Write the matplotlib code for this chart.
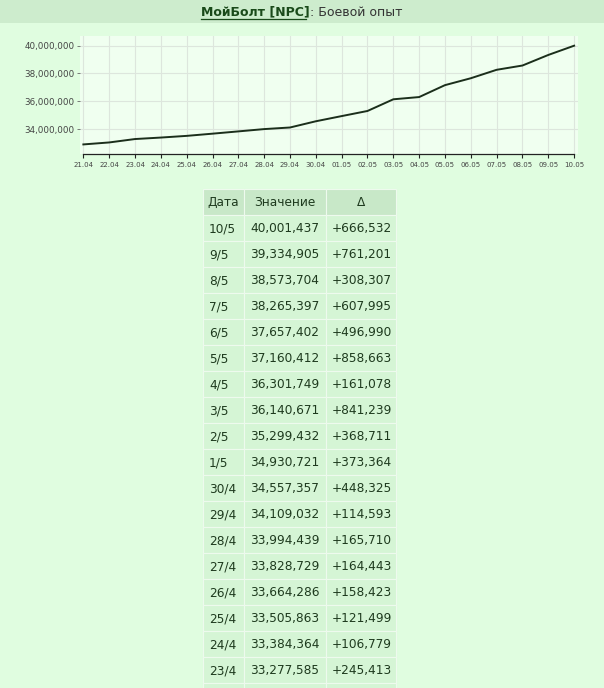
import matplotlib
matplotlib.use("Agg")
import matplotlib.pyplot as plt
from matplotlib.patches import Rectangle
from matplotlib.ticker import FuncFormatter

# ---- data ----
chart_dates = ["21.04", "22.04", "23.04", "24.04", "25.04", "26.04", "27.04", "28.04",
               "29.04", "30.04", "01.05", "02.05", "03.05", "04.05", "05.05", "06.05",
               "07.05", "08.05", "09.05", "10.05"]
chart_values = [32890000, 33032172, 33277585, 33384364, 33505863, 33664286, 33828729,
                33994439, 34109032, 34557357, 34930721, 35299432, 36140671, 36301749,
                37160412, 37657402, 38265397, 38573704, 39334905, 40001437]
y_ticks = [34000000, 36000000, 38000000, 40000000]

table_dates = ["10/5", "9/5", "8/5", "7/5", "6/5", "5/5", "4/5", "3/5", "2/5", "1/5",
               "30/4", "29/4", "28/4", "27/4", "26/4", "25/4", "24/4", "23/4"]
table_values = ["40,001,437", "39,334,905", "38,573,704", "38,265,397", "37,657,402",
                "37,160,412", "36,301,749", "36,140,671", "35,299,432", "34,930,721",
                "34,557,357", "34,109,032", "33,994,439", "33,828,729", "33,664,286",
                "33,505,863", "33,384,364", "33,277,585"]
table_deltas = ["+666,532", "+761,201", "+308,307", "+607,995", "+496,990", "+858,663",
                "+161,078", "+841,239", "+368,711", "+373,364", "+448,325", "+114,593",
                "+165,710", "+164,443", "+158,423", "+121,499", "+106,779", "+245,413"]
headers = ["Дата", "Значение", "Δ"]
title_bold = "МойБолт [NPC]"
title_rest = ": Боевой опыт"

# ---- style ----
W, H = 604, 688
page_bg = "#e0fde0"
bar_bg = "#cdeccd"
panel_bg = "#f0fff0"
hdr_bg = "#c8e8c8"
cell_bg = "#d5f5d5"
txt = "#1e3a1e"
grid_c = "#dde6dd"

plt.rcParams["font.family"] = ["DejaVu Sans"]
fig = plt.figure(figsize=(W / 100, H / 100), dpi=100, facecolor=page_bg)

# overlay in pixel coordinates
ov = fig.add_axes([0, 0, 1, 1], zorder=0)
ov.set_xlim(0, W)
ov.set_ylim(H, 0)
ov.axis("off")
ov.add_patch(Rectangle((0, 0), W, 23, facecolor=bar_bg, edgecolor="none"))

# title
fig.canvas.draw()
r = fig.canvas.get_renderer()
t1 = ov.text(0, 12, title_bold, fontsize=9, fontweight="bold", color="#1a4a1a",
             va="center", ha="left")
t2 = ov.text(0, 12, title_rest, fontsize=9, color="#333333", va="center", ha="left")
w1 = t1.get_window_extent(r).width
w2 = t2.get_window_extent(r).width
x0 = W / 2 - (w1 + w2) / 2
t1.set_x(x0)
t2.set_x(x0 + w1)
ov.plot([x0, x0 + w1 - 4], [19, 19], color="#1a4a1a", lw=0.9)

# ---- chart ----
ax = fig.add_axes([80 / W, 1 - 154 / H, (578 - 80) / W, (154 - 36) / H], zorder=1)
ax.set_facecolor(panel_bg)
xs = list(range(len(chart_dates)))
ax.plot(xs, chart_values, color="#1b2e1b", lw=1.4, zorder=3)
ax.set_xlim(-0.13, len(chart_dates) - 1 + 0.15)
ax.set_ylim(32200000, 40700000)
ax.set_xticks(xs)
ax.set_xticklabels(chart_dates, fontsize=5, color="#444444")
ax.set_yticks(y_ticks)
ax.yaxis.set_major_formatter(FuncFormatter(lambda v, p: f"{int(v):,}"))
ax.tick_params(axis="y", labelsize=6.3, labelcolor="#444444", length=2, width=0.6,
               color="#666666", pad=2)
ax.tick_params(axis="x", length=3, width=0.8, color="#222222", pad=3)
ax.grid(True, color=grid_c, lw=0.8)
ax.set_axisbelow(True)
for s in ["top", "right", "left"]:
    ax.spines[s].set_visible(False)
ax.spines["bottom"].set_color("#222222")
ax.spines["bottom"].set_linewidth(0.9)
ax.spines["bottom"].set_bounds(0, len(chart_dates) - 1)

# ---- table ----
col_x = [203, 244, 326, 396]
hdr_top, hdr_h, row_h = 189, 26, 26
for j in range(3):
    ov.add_patch(Rectangle((col_x[j], hdr_top), col_x[j + 1] - col_x[j], hdr_h,
                           facecolor=hdr_bg, edgecolor="#eefaee", lw=0.8))
    ov.text((col_x[j] + col_x[j + 1]) / 2, hdr_top + hdr_h / 2 + 0.5, headers[j],
            fontsize=8.7, color=txt, ha="center", va="center")
n_rows = len(table_dates)
for i in range(n_rows + 1):
    top = hdr_top + hdr_h + i * row_h
    for j in range(3):
        ov.add_patch(Rectangle((col_x[j], top), col_x[j + 1] - col_x[j], row_h,
                               facecolor=cell_bg, edgecolor="#eefaee", lw=0.8))
    if i < n_rows:
        for j, s in enumerate([table_dates[i], table_values[i], table_deltas[i]]):
            ov.text(col_x[j] + 6, top + row_h / 2 + 0.5, s, fontsize=8.7, color=txt,
                    ha="left", va="center")

fig.savefig("out.png", dpi=100, facecolor=page_bg)
